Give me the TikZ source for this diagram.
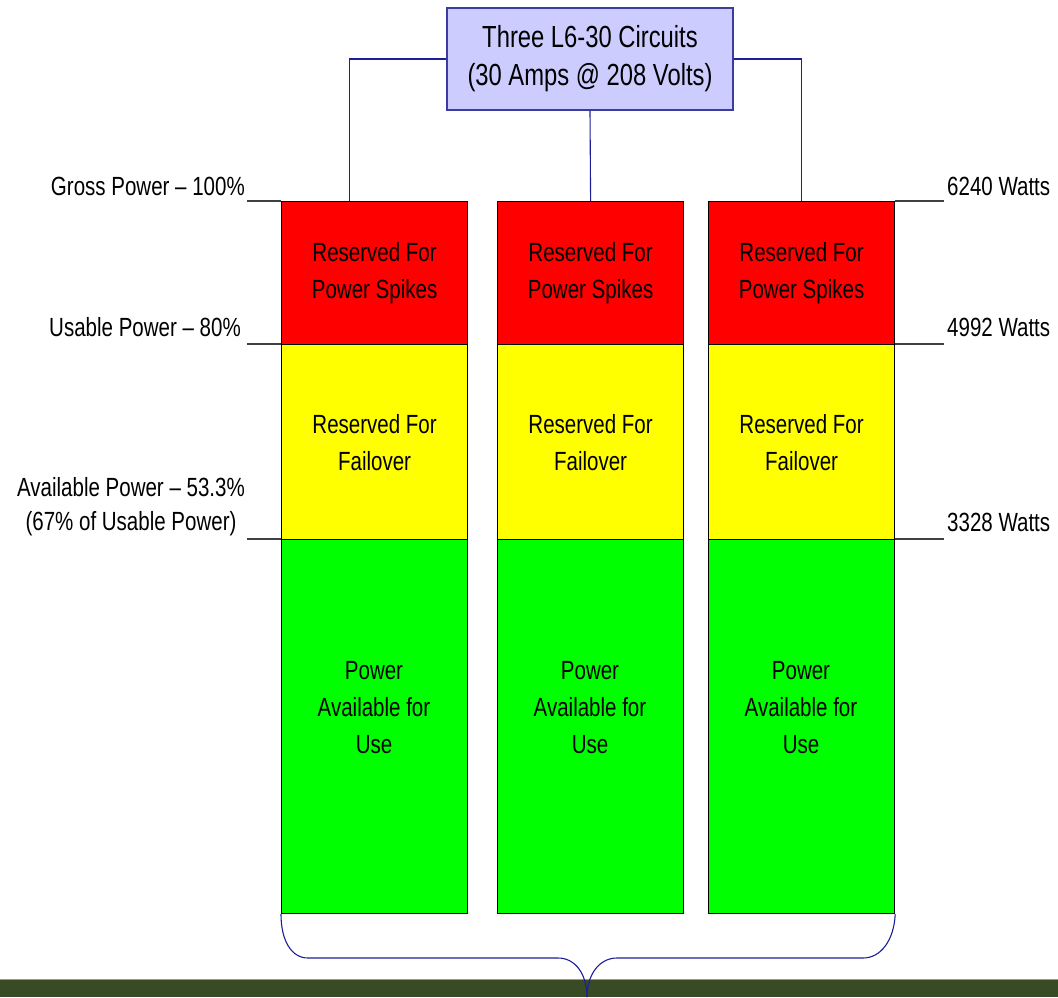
\documentclass[tikz,border=0pt]{standalone}
\usepackage{fontspec}
\setmainfont{Liberation Sans}[FakeStretch=0.78]
\definecolor{conncol}{RGB}{30,30,150}
\definecolor{boxborder}{RGB}{60,60,160}
\definecolor{boxfill}{RGB}{204,204,255}
\definecolor{barcol}{RGB}{56,75,36}
\definecolor{redc}{RGB}{255,0,0}
\definecolor{yelc}{RGB}{255,255,0}
\definecolor{grnc}{RGB}{0,255,0}
\begin{document}
\begin{tikzpicture}[x=1pt,y=-1pt,
  colbox/.style={draw=black, line width=1.2pt, minimum width=186pt, inner sep=0pt, align=center, font=\fontsize{26.3}{37}\selectfont},
  coltext/.style={inner sep=0pt, align=center, font=\fontsize{26.3}{37}\selectfont},
  lbl/.style={inner sep=0pt, align=center, font=\fontsize{26.3}{34}\selectfont},
  conn/.style={draw=conncol, line width=1.1pt},
  level/.style={draw=black!75, line width=1.2pt},
  topbox/.style={draw=boxborder, fill=boxfill, line width=1.2pt, minimum width=286pt, minimum height=102pt, align=center, inner sep=0pt, font=\fontsize{30.5}{38}\selectfont}
]
\useasboundingbox (0,0) rectangle (1058,997);
% bottom bar
\fill[barcol] (0,979) rectangle (1058,997);
\draw[black!40, line width=1pt] (0,979.5) -- (1058,979.5);

% top box
\node[topbox] (top) at (590,59) {Three L6-30 Circuits\\(30 Amps @ 208 Volts)};

% columns
\foreach \i/\x in {1/281,2/497,3/708}{
  \node[colbox, fill=grnc, minimum height=374pt, anchor=north west] (g\i) at (\x,539) {};
  \node[colbox, fill=yelc, minimum height=195pt, anchor=north west] (y\i) at (\x,344) {Reserved For\\Failover};
  \node[colbox, fill=redc, minimum height=143pt, anchor=north west] (r\i) at (\x,201) {Reserved For\\Power Spikes};
  \node[coltext] (gt\i) at (\x+93,708) {Power\\Available for\\Use};
}

% connectors
\draw[conn] (top.west) -| ([xshift=-25.5pt]r1.north);
\draw[conn] (top.south) -- (r2.north);
\draw[conn] (top.east) -| (r3.north);

% level lines
\draw[level] ([xshift=-34pt]r1.north west) -- (r1.north west);
\draw[level] ([xshift=-34pt]y1.north west) -- (y1.north west);
\draw[level] ([xshift=-34pt]g1.north west) -- (g1.north west);
\draw[level] (r3.north east) -- ([xshift=49pt]r3.north east);
\draw[level] (y3.north east) -- ([xshift=49pt]y3.north east);
\draw[level] (g3.north east) -- ([xshift=49pt]g3.north east);

% left labels
\node[lbl, anchor=east] (gross) at (245,186) {Gross Power – 100\%};
\node[lbl, anchor=east] (usable) at (241,327) {Usable Power – 80\%};
\node[lbl] (avail) at (131,507) {Available Power – 53.3\%\\(67\% of Usable Power)};

% right labels
\node[lbl, anchor=west] (w1) at (947,186) {6240 Watts};
\node[lbl, anchor=west] (w2) at (947,327) {4992 Watts};
\node[lbl, anchor=west] (w3) at (947,522) {3328 Watts};

% brace
\coordinate (tip) at (587,997);
\draw[conn] (g1.south west) .. controls (281,940) and (291,958) .. (308,958) -- (558,958)
  .. controls (576,958) and (587,975) .. (tip);
\draw[conn] (tip) .. controls (587,975) and (599,958) .. (617,958) -- (863,958)
  .. controls (881,958) and (894,940) .. (g3.south east);
\end{tikzpicture}
\end{document}
